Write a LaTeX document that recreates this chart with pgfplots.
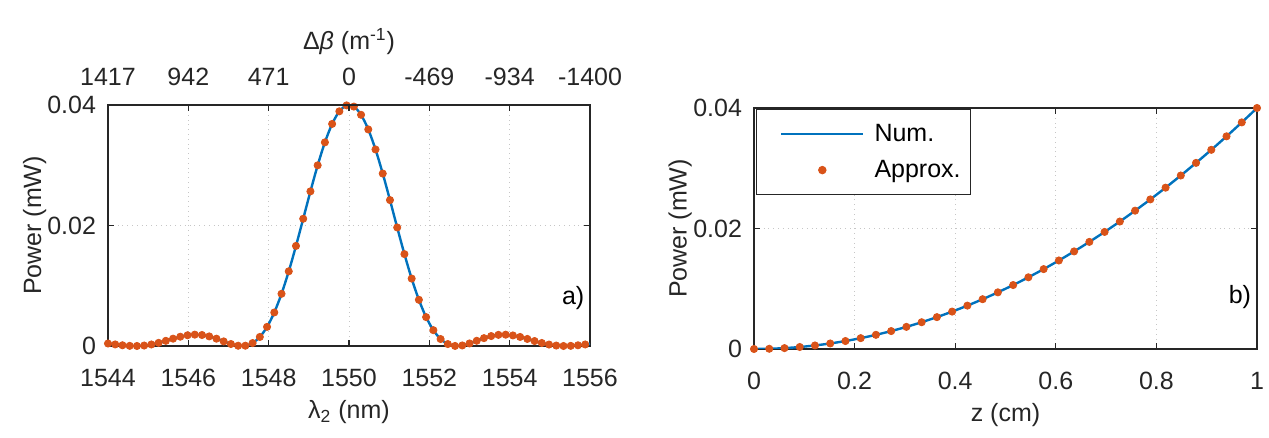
\documentclass[border=0pt]{standalone}
\usepackage{fontspec}
\setmainfont{Liberation Sans}
\usepackage{pgfplots}
\usepackage{pgfplotstable}
\pgfplotsset{compat=1.18}
\definecolor{mblue}{rgb}{0,0.447,0.741}
\definecolor{morange}{rgb}{0.850,0.325,0.098}
\definecolor{maxis}{rgb}{0.15,0.15,0.15}

\pgfplotstableread{
lam P
1544.00 0.000412
1544.18 0.000261
1544.36 0.000121
1544.54 0.0000247
1544.72 0.0000029
1544.90 0.0000766
1545.08 0.000253
1545.26 0.000522
1545.44 0.000858
1545.62 0.001215
1545.80 0.001541
1545.98 0.001781
1546.16 0.001886
1546.34 0.001824
1546.52 0.001592
1546.70 0.001217
1546.88 0.000763
1547.06 0.000329
1547.24 0.0000432
1547.42 0.0000480
1547.60 0.000490
1547.78 0.001500
1547.96 0.003174
1548.14 0.005566
1548.32 0.008663
1548.50 0.012394
1548.68 0.016612
1548.86 0.021120
1549.04 0.025668
1549.22 0.029988
1549.40 0.033801
1549.58 0.036859
1549.76 0.038952
1549.94 0.039934
1550.12 0.039735
1550.30 0.038375
1550.48 0.035947
1550.66 0.032620
1550.84 0.028622
1551.02 0.024217
1551.20 0.019672
1551.38 0.015253
1551.56 0.011192
1551.74 0.007667
1551.92 0.004792
1552.10 0.002626
1552.28 0.001158
1552.46 0.000322
1552.64 0.0000109
1552.82 0.0000920
1553.00 0.000422
1553.18 0.000865
1553.36 0.001304
1553.54 0.001649
1553.72 0.001848
1553.90 0.001879
1554.08 0.001753
1554.26 0.001502
1554.44 0.001174
1554.62 0.000823
1554.80 0.000499
1554.98 0.000240
1555.16 0.0000717
1555.34 0.0000025
1555.52 0.0000244
1555.70 0.000118
1555.88 0.000253
}\specdata

\pgfplotstableread{
lam P
1555.88 0.000253
1556.00 0.000352
}\specend

\pgfplotstableread{
z P
0.0000 0.0000000
0.0303 0.0000367
0.0606 0.000147
0.0909 0.000331
0.1212 0.000588
0.1515 0.000918
0.1818 0.001322
0.2121 0.001800
0.2424 0.002351
0.2727 0.002975
0.3030 0.003673
0.3333 0.004444
0.3636 0.005289
0.3939 0.006208
0.4242 0.007199
0.4545 0.008264
0.4848 0.009403
0.5152 0.010615
0.5455 0.011901
0.5758 0.013260
0.6061 0.014692
0.6364 0.016198
0.6667 0.017778
0.6970 0.019431
0.7273 0.021157
0.7576 0.022957
0.7879 0.024830
0.8182 0.026777
0.8485 0.028797
0.8788 0.030891
0.9091 0.033058
0.9394 0.035298
0.9697 0.037613
1.0000 0.040000
}\zdata

\pgfplotsset{mystyle/.style={
  scale only axis,
  axis line style={maxis, line width=0.8pt},
  tick style={maxis, line width=0.6pt},
  tick align=inside,
  major tick length=3pt,
  ticklabel style={font=\fontsize{12.5}{14}\selectfont, text=maxis},
  label style={font=\fontsize{12.5}{14}\selectfont, text=maxis},
  xticklabel shift=8pt,
  yticklabel shift=2.5pt,
  /pgf/number format/assume math mode=true,
  grid=major,
  grid style={dotted, gray!45, line width=0.5pt},
  ymin=0, ymax=0.04, ytick={0,0.02,0.04}, yticklabels={0,0.02,0.04},
  scaled y ticks=false, scaled x ticks=false,
}}

\begin{document}
\begin{tikzpicture}
\path[use as bounding box] (0pt,0pt) rectangle (634.5pt,219pt);

% ---- left panel
\begin{axis}[mystyle,
  at={(54pt,46pt)}, anchor=south west, width=241pt, height=120.5pt,
  xmin=1544, xmax=1556,
  xtick={1544,1546,1548,1550,1552,1554,1556},
  xticklabels={1544,1546,1548,1550,1552,1554,1556},
  xlabel={λ\textsubscript{2} (nm)},
  ylabel={Power (mW)},
  ylabel style={at={(axis description cs:-0.152,0.5)}, anchor=center},
]
\addplot[mblue, line width=1.2pt, smooth, no markers] table[x=lam,y=P] {\specdata};
\addplot[mblue, line width=1.2pt, no markers] table[x=lam,y=P] {\specend};
\addplot[only marks, mark=*, mark size=1.8pt, morange, mark options={draw=morange, fill=morange}] table[x=lam,y=P] {\specdata};
\node[font=\fontsize{12.5}{14}\selectfont, text=black] at (rel axis cs:0.965,0.2) {a)};
\end{axis}
\begin{axis}[scale only axis,
  at={(54pt,46pt)}, anchor=south west, width=241pt, height=120.5pt,
  xmin=1544, xmax=1556, ymin=0, ymax=1,
  axis x line*=top, axis y line=none,
  axis line style={maxis, line width=0.8pt},
  tick style={maxis, line width=0.6pt},
  tick align=inside, major tick length=3pt,
  xtick={1544,1546,1548,1550,1552,1554,1556},
  xticklabels={1417,942,471,0,-469,-934,-1400},
  xticklabel shift=6pt,
  ticklabel style={font=\fontsize{12.5}{14}\selectfont, text=maxis},
  label style={font=\fontsize{12.5}{14}\selectfont, text=maxis},
  xlabel={Δ\textit{β} (m\textsuperscript{-1})},
]
\end{axis}

% ---- right panel
\begin{axis}[mystyle,
  at={(377pt,44.5pt)}, anchor=south west, width=251.5pt, height=120.5pt,
  xmin=0, xmax=1,
  xtick={0,0.2,0.4,0.6,0.8,1},
  xticklabels={0,0.2,0.4,0.6,0.8,1},
  xlabel={z (cm)},
  ylabel={Power (mW)},
  ylabel style={at={(axis description cs:-0.147,0.5)}, anchor=center},
  legend cell align=left,
  legend style={at={(rel axis cs:0.003,0.995)}, anchor=north west,
    draw=maxis, line width=0.6pt, fill=white,
    font=\fontsize{12.5}{14}\selectfont,
    inner xsep=3pt, inner ysep=5pt, row sep=4pt},
  legend image code/.code={\path (-9pt,0pt) (44pt,0pt); \draw[mark repeat=2,mark phase=2,#1] plot coordinates {(0pt,0pt) (20.5pt,0pt) (41pt,0pt)};},
]
\addplot[mblue, line width=1.2pt, smooth, no markers] table[x=z,y=P] {\zdata};
\addlegendentry{Num.}
\addplot[only marks, mark=*, mark size=1.8pt, morange, mark options={draw=morange, fill=morange}] table[x=z,y=P] {\zdata};
\addlegendentry{Approx.}
\node[font=\fontsize{12.5}{14}\selectfont, text=black] at (rel axis cs:0.966,0.216) {b)};
\end{axis}
\end{tikzpicture}
\end{document}
